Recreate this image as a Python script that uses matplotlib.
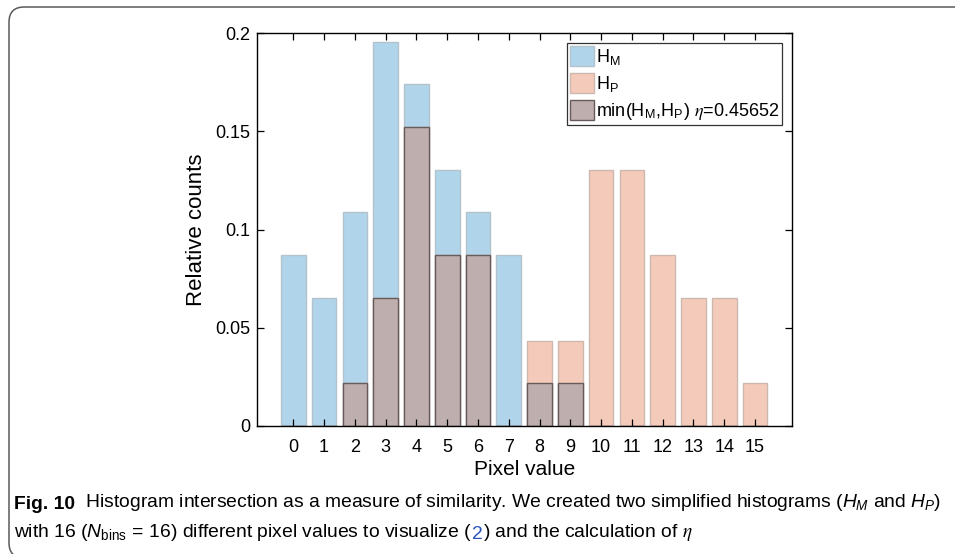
import matplotlib
matplotlib.use("Agg")
import matplotlib.pyplot as plt
from matplotlib.patches import FancyBboxPatch
from matplotlib.text import Annotation

plt.rcParams['font.family'] = ['Liberation Sans', 'DejaVu Sans']
plt.rcParams['mathtext.fontset'] = 'custom'
plt.rcParams['mathtext.rm'] = 'Liberation Sans'
plt.rcParams['mathtext.it'] = 'Liberation Sans:italic'
plt.rcParams['mathtext.bf'] = 'Liberation Sans:bold'

bins = list(range(16))
n_total = 46
h_m_counts = [4, 3, 5, 9, 8, 6, 5, 4, 1, 1, 0, 0, 0, 0, 0, 0]
h_p_counts = [0, 0, 1, 3, 7, 4, 4, 0, 2, 2, 6, 6, 4, 3, 3, 1]
h_m = [c / n_total for c in h_m_counts]
h_p = [c / n_total for c in h_p_counts]
h_min = [min(a, b) for a, b in zip(h_m, h_p)]
eta = sum(h_min)

y_ticks = [0, 0.05, 0.1, 0.15, 0.2]
y_tick_labels = ['0', '0.05', '0.1', '0.15', '0.2']

fig = plt.figure(figsize=(9.55, 5.54), dpi=100)

# outer rounded frame (top-left part visible, rest runs off the page)
frame = FancyBboxPatch((9 / 955, -4 / 554), 1.2, 1 + 4 / 554 - 7 / 554,
                       boxstyle="round,pad=0,rounding_size=0.016",
                       transform=fig.transFigure, facecolor='none', edgecolor='#5a5a5a',
                       linewidth=1.1, mutation_aspect=955 / 554)
fig.patches.append(frame)

ax = fig.add_axes([257 / 955, 1 - 426 / 554, (792 - 257) / 955, (426 - 33) / 554])
ax.bar(bins, h_m, width=0.8, color='#b0d4ea', edgecolor='#b4c2cc', linewidth=1.0, label='H$_\\mathregular{M}$')
ax.bar(bins, h_p, width=0.8, color='#f4cbbb', edgecolor='#cdb8b0', linewidth=1.0, label='H$_\\mathregular{P}$')
ax.bar(bins, h_min, width=0.8, color='#bfaeae', edgecolor='#685a5a', linewidth=1.0,
       label='min(H$_\\mathregular{M}$,H$_\\mathregular{P}$) $\\eta$=%.5f' % eta)

ax.set_xlim(-1.18, 16.2)
ax.set_ylim(0, 0.2)
ax.set_xticks(bins)
ax.set_xticklabels([str(b) for b in bins], fontsize=13)
ax.set_yticks(y_ticks)
ax.set_yticklabels(y_tick_labels, fontsize=13)
ax.tick_params(direction='in', top=True, right=True, length=5, width=0.9)
ax.tick_params(axis='x', pad=9)
ax.tick_params(axis='y', pad=5)
for s in ax.spines.values():
    s.set_linewidth(1.0)
ax.set_xlabel('Pixel value', fontsize=15, labelpad=3)
ax.set_ylabel('Relative counts', fontsize=16, labelpad=6)

leg = ax.legend(loc='upper right', fontsize=13, frameon=True, fancybox=False,
                edgecolor='black', handlelength=1.35, handleheight=1.35, handletextpad=0.12,
                labelspacing=0.33, borderpad=0.15, borderaxespad=0.55)
leg.get_frame().set_linewidth(0.9)
leg.get_texts()[2].set_math_fontfamily('stix')

# caption
cap_font = ['Liberation Sans', 'DejaVu Sans']
cs = 13.9
t1 = fig.text(14 / 955, 1 - 509 / 554, 'Fig. 10', fontsize=cs, fontweight='bold', family=cap_font,
              va='baseline')
fig.add_artist(Annotation(
    '  Histogram intersection as a measure of similarity. We created two simplified histograms ($H_M$ and $H_P$)',
    xy=(1, 0), xycoords=t1, va='bottom', ha='left', fontsize=cs, family=cap_font))
l2a = fig.text(14 / 955, 1 - 537 / 554, 'with 16 ($N_{\\mathrm{bins}}\\,=\\,$16) different pixel values to visualize (',
               fontsize=cs, family=cap_font, va='baseline')
l2b = fig.add_artist(Annotation('2', xy=(1, 0), xycoords=l2a,
                                va='bottom', ha='left', fontsize=cs, family=cap_font, color='#2a52be'))
l2c = fig.add_artist(Annotation(') and the calculation of $\\eta$', xy=(1, 0), xycoords=l2b,
                                va='bottom', ha='left', fontsize=cs, family=cap_font))
l2c.set_math_fontfamily('stix')

fig.savefig('out.png', dpi=100)
